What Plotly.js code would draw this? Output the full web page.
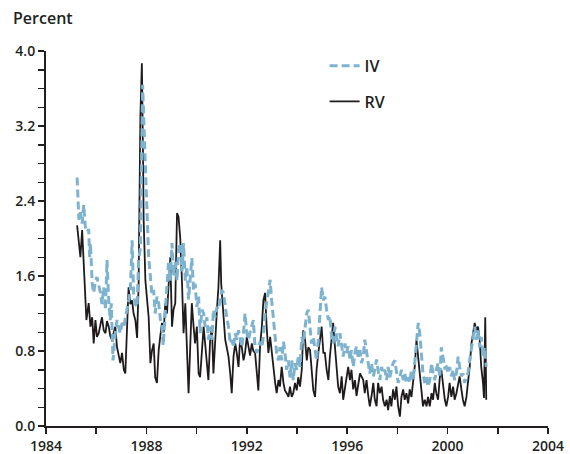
<!DOCTYPE html>
<html>
<head>
<meta charset="utf-8">
<script src="https://cdn.plot.ly/plotly-3.0.1.min.js"></script>
<style>html,body{margin:0;padding:0;background:#fff;}#chart{width:570px;height:454px;}</style>
</head>
<body>
<div id="chart"></div>
<script>
const rvYears = [1985.24,1985.31,1985.37,1985.44,1985.50,1985.57,1985.61,1985.70,1985.77,1985.84,1985.90,1985.97,1986.03,1986.10,1986.17,1986.23,1986.30,1986.37,1986.43,1986.50,1986.56,1986.63,1986.70,1986.76,1986.83,1986.90,1986.96,1987.03,1987.10,1987.16,1987.23,1987.29,1987.36,1987.43,1987.49,1987.56,1987.63,1987.69,1987.76,1987.82,1987.86,1987.89,1987.96,1988.02,1988.09,1988.16,1988.22,1988.29,1988.35,1988.42,1988.49,1988.55,1988.62,1988.69,1988.75,1988.82,1988.88,1988.95,1989.02,1989.08,1989.15,1989.22,1989.28,1989.35,1989.42,1989.48,1989.55,1989.61,1989.68,1989.75,1989.81,1989.88,1989.94,1990.01,1990.08,1990.14,1990.21,1990.28,1990.34,1990.41,1990.47,1990.54,1990.61,1990.67,1990.74,1990.81,1990.87,1990.94,1990.98,1991.07,1991.14,1991.20,1991.27,1991.34,1991.40,1991.47,1991.54,1991.60,1991.67,1991.73,1991.80,1991.87,1991.93,1992.00,1992.07,1992.13,1992.20,1992.26,1992.33,1992.40,1992.46,1992.53,1992.60,1992.66,1992.73,1992.79,1992.86,1992.93,1992.99,1993.06,1993.13,1993.19,1993.26,1993.32,1993.39,1993.46,1993.52,1993.59,1993.66,1993.72,1993.79,1993.85,1993.92,1993.99,1994.05,1994.12,1994.19,1994.25,1994.32,1994.39,1994.45,1994.52,1994.58,1994.65,1994.72,1994.78,1994.85,1994.92,1994.98,1995.05,1995.11,1995.18,1995.25,1995.31,1995.38,1995.44,1995.51,1995.58,1995.64,1995.71,1995.78,1995.84,1995.91,1995.97,1996.04,1996.11,1996.17,1996.24,1996.31,1996.37,1996.44,1996.51,1996.57,1996.64,1996.70,1996.77,1996.84,1996.90,1996.97,1997.04,1997.10,1997.17,1997.23,1997.30,1997.37,1997.43,1997.50,1997.57,1997.63,1997.70,1997.76,1997.83,1997.90,1997.96,1998.03,1998.10,1998.16,1998.23,1998.29,1998.36,1998.43,1998.49,1998.56,1998.63,1998.69,1998.76,1998.83,1998.89,1998.96,1999.02,1999.09,1999.16,1999.22,1999.29,1999.36,1999.42,1999.49,1999.55,1999.62,1999.69,1999.75,1999.82,1999.89,1999.95,2000.02,2000.08,2000.15,2000.22,2000.28,2000.35,2000.42,2000.48,2000.55,2000.61,2000.68,2000.75,2000.81,2000.88,2000.95,2001.01,2001.08,2001.14,2001.21,2001.28,2001.34,2001.41,2001.45,2001.50,2001.54];
const rvValues = [2.14,1.91,1.80,2.09,1.77,1.34,1.13,1.31,1.06,1.16,0.88,1.13,0.95,0.99,1.10,1.16,1.02,0.99,1.12,1.06,0.96,0.92,1.00,1.06,0.84,0.75,0.67,0.78,0.60,0.56,1.20,1.48,1.30,1.34,1.20,1.13,0.94,1.52,3.30,3.87,3.00,2.20,1.55,1.34,1.16,0.67,0.80,0.88,0.52,0.46,0.81,0.95,1.10,1.00,1.31,1.20,1.45,1.80,1.06,1.24,1.31,2.27,2.23,2.00,1.52,0.99,1.31,0.81,0.35,0.88,1.31,1.06,0.88,1.06,0.56,0.52,0.81,1.06,0.88,0.63,0.49,0.92,1.06,0.56,0.99,1.24,1.48,1.98,1.52,1.16,0.92,0.84,0.74,0.56,0.35,0.74,0.88,0.78,0.63,0.92,0.84,0.70,0.78,0.95,0.84,0.75,0.88,0.80,0.78,0.56,0.38,0.86,1.06,1.34,1.42,1.06,0.78,0.95,0.78,0.63,0.46,0.35,0.49,0.42,0.63,0.46,0.38,0.35,0.31,0.42,0.31,0.35,0.46,0.38,0.52,0.42,0.60,1.02,0.92,0.70,0.84,0.81,0.60,0.38,0.31,0.60,0.78,0.92,1.06,0.78,0.78,0.60,0.49,0.74,0.95,1.10,0.85,0.63,0.42,0.35,0.53,0.28,0.39,0.53,0.63,0.49,0.60,0.39,0.49,0.32,0.42,0.56,0.53,0.49,0.35,0.49,0.32,0.21,0.32,0.46,0.28,0.21,0.46,0.35,0.42,0.28,0.21,0.28,0.17,0.32,0.21,0.39,0.28,0.42,0.21,0.10,0.31,0.39,0.28,0.35,0.24,0.39,0.31,0.46,0.63,0.92,0.74,0.52,0.39,0.21,0.28,0.21,0.31,0.21,0.35,0.28,0.46,0.35,0.28,0.52,0.60,0.42,0.28,0.21,0.31,0.46,0.31,0.42,0.28,0.35,0.46,0.53,0.39,0.28,0.21,0.31,0.46,0.63,0.88,0.99,1.10,1.02,1.06,0.92,0.63,0.46,0.30,1.16,0.28];

const ivYears = [1985.24,1985.26,1985.31,1985.37,1985.44,1985.50,1985.57,1985.64,1985.70,1985.74,1985.77,1985.84,1985.90,1985.97,1986.03,1986.10,1986.17,1986.23,1986.30,1986.37,1986.43,1986.50,1986.56,1986.60,1986.67,1986.76,1986.83,1986.90,1986.96,1987.03,1987.10,1987.16,1987.23,1987.30,1987.36,1987.43,1987.49,1987.56,1987.63,1987.69,1987.76,1987.85,1987.96,1988.02,1988.09,1988.16,1988.22,1988.29,1988.35,1988.42,1988.49,1988.55,1988.62,1988.67,1988.75,1988.82,1988.88,1988.95,1989.02,1989.08,1989.15,1989.22,1989.28,1989.35,1989.42,1989.48,1989.55,1989.61,1989.68,1989.75,1989.81,1989.88,1989.94,1990.01,1990.08,1990.14,1990.21,1990.28,1990.34,1990.41,1990.47,1990.54,1990.61,1990.67,1990.74,1990.81,1990.87,1990.94,1991.00,1991.07,1991.14,1991.20,1991.27,1991.34,1991.40,1991.47,1991.54,1991.60,1991.67,1991.73,1991.80,1991.87,1991.93,1992.00,1992.07,1992.13,1992.20,1992.26,1992.33,1992.40,1992.46,1992.53,1992.60,1992.66,1992.73,1992.79,1992.86,1992.93,1992.99,1993.06,1993.13,1993.19,1993.26,1993.32,1993.39,1993.46,1993.52,1993.59,1993.66,1993.72,1993.79,1993.85,1993.92,1993.99,1994.05,1994.12,1994.19,1994.25,1994.32,1994.39,1994.45,1994.52,1994.58,1994.65,1994.72,1994.78,1994.85,1994.92,1994.98,1995.05,1995.11,1995.18,1995.25,1995.31,1995.38,1995.44,1995.51,1995.58,1995.64,1995.71,1995.78,1995.84,1995.91,1995.97,1996.04,1996.11,1996.17,1996.24,1996.31,1996.37,1996.44,1996.51,1996.57,1996.64,1996.70,1996.77,1996.84,1996.90,1996.97,1997.04,1997.10,1997.17,1997.23,1997.30,1997.37,1997.43,1997.50,1997.57,1997.63,1997.70,1997.76,1997.83,1997.90,1997.96,1998.03,1998.10,1998.16,1998.23,1998.29,1998.36,1998.43,1998.49,1998.56,1998.63,1998.69,1998.76,1998.83,1998.89,1998.96,1999.02,1999.09,1999.16,1999.22,1999.29,1999.36,1999.42,1999.49,1999.55,1999.62,1999.69,1999.75,1999.82,1999.89,1999.95,2000.02,2000.08,2000.15,2000.22,2000.28,2000.35,2000.42,2000.48,2000.55,2000.61,2000.68,2000.75,2000.81,2000.88,2000.95,2001.01,2001.08,2001.14,2001.21,2001.28,2001.34,2001.41,2001.47,2001.54];
const ivValues = [2.65,2.44,2.20,2.28,2.16,2.36,2.12,2.07,2.10,1.80,1.95,1.52,1.42,1.55,1.59,1.50,1.42,1.30,1.48,1.24,1.77,1.34,1.13,1.31,0.70,0.99,1.13,1.05,0.99,1.10,1.06,1.15,1.24,1.35,1.45,1.98,1.42,1.30,1.27,1.77,1.90,3.64,2.76,2.23,1.80,1.59,1.40,1.45,1.20,1.38,1.31,1.15,1.06,0.86,1.25,1.50,1.74,1.55,1.95,1.60,1.75,1.55,1.88,1.95,1.65,1.95,1.55,1.70,1.35,1.60,1.79,1.45,1.52,1.27,1.38,0.99,1.24,1.20,1.06,1.16,0.92,1.06,0.92,1.24,1.16,1.27,1.24,1.34,1.45,1.42,1.24,1.16,1.06,0.88,0.92,0.84,0.99,0.92,1.02,0.92,0.84,1.00,1.20,0.99,0.92,1.00,1.06,1.13,0.84,0.78,0.84,0.90,0.84,0.95,1.20,1.30,1.42,1.56,1.34,1.13,0.95,0.78,0.70,0.84,0.70,0.90,0.78,0.60,0.70,0.52,0.70,0.49,0.67,0.60,0.74,0.63,0.95,0.88,1.05,1.20,1.24,1.06,0.88,0.95,0.81,0.70,0.92,1.20,1.48,1.34,1.38,1.24,1.13,1.17,0.95,0.88,1.06,0.95,0.85,0.99,0.85,0.74,0.88,0.78,0.85,0.71,0.81,0.63,0.78,0.85,0.74,0.81,0.67,0.74,0.92,0.78,0.67,0.56,0.67,0.53,0.60,0.71,0.60,0.49,0.63,0.56,0.60,0.49,0.63,0.52,0.60,0.67,0.70,0.56,0.46,0.52,0.60,0.49,0.56,0.46,0.52,0.46,0.60,0.49,0.70,0.92,1.10,0.99,0.78,0.56,0.46,0.52,0.42,0.49,0.67,0.56,0.49,0.60,0.67,0.52,0.84,0.74,0.62,0.63,0.56,0.63,0.53,0.60,0.49,0.56,0.74,0.63,0.53,0.56,0.46,0.53,0.56,0.70,0.84,0.95,1.06,0.92,1.02,0.84,0.95,0.74,0.84,0.63];

const xTickVals = [1984,1988,1992,1996,2000,2004];
const yTickVals = [0.0,0.8,1.6,2.4,3.2,4.0];

const ink = '#231f20';
const traces = [
  {x: rvYears, y: rvValues, name: 'RV', type: 'scatter', mode: 'lines',
   line: {color: '#1f1b1c', width: 1.8}, legendrank: 2, legendgroup: 'rv'},
  {x: ivYears, y: ivValues, name: 'IV', type: 'scatter', mode: 'lines',
   line: {color: '#7eb3d0', width: 3, dash: '8px,4px'}, legendrank: 1, legendgroup: 'iv'}
];
const layout = {
  width: 570, height: 454,
  margin: {l: 46, r: 22, t: 51, b: 28},
  paper_bgcolor: '#fff', plot_bgcolor: '#fff',
  font: {family: '"Open Sans", Lato, sans-serif', color: ink, size: 14, weight: 600},
  showlegend: true,
  legend: {x: 0.555, y: 1.006, xanchor: 'left', yanchor: 'top', traceorder: 'grouped',
           tracegroupgap: 12, font: {size: 16, color: ink, weight: 600}, bgcolor: 'rgba(0,0,0,0)', itemwidth: 30},
  xaxis: {range: [1984, 2004], tickvals: xTickVals, ticktext: xTickVals.map(String),
          ticks: 'outside', ticklen: 6, tickwidth: 1.5, tickcolor: ink,
          minor: {dtick: 2, tick0: 1984, ticks: 'outside', ticklen: 6, tickwidth: 1.5, tickcolor: ink, showgrid: false},
          showline: true, linecolor: ink, linewidth: 2, showgrid: false, zeroline: false,
          tickfont: {size: 14, color: ink, weight: 600}},
  yaxis: {range: [0, 4], tickvals: yTickVals, ticktext: yTickVals.map(v => v.toFixed(1)),
          ticks: 'outside', ticklen: 6, tickwidth: 1.5, tickcolor: ink,
          minor: {dtick: 0.2, tick0: 0, ticks: 'outside', ticklen: 6, tickwidth: 1.5, tickcolor: ink, showgrid: false},
          showline: true, linecolor: ink, linewidth: 2, showgrid: false, zeroline: false,
          tickfont: {size: 14, color: ink, weight: 600}},
  annotations: [{text: 'Percent', xref: 'paper', yref: 'paper', x: -0.07, y: 1.088,
                 xanchor: 'left', yanchor: 'middle', showarrow: false, font: {size: 16, color: ink, weight: 600}}]
};
Plotly.newPlot('chart', traces, layout, {staticPlot: true, displayModeBar: false});
</script>
</body>
</html>
